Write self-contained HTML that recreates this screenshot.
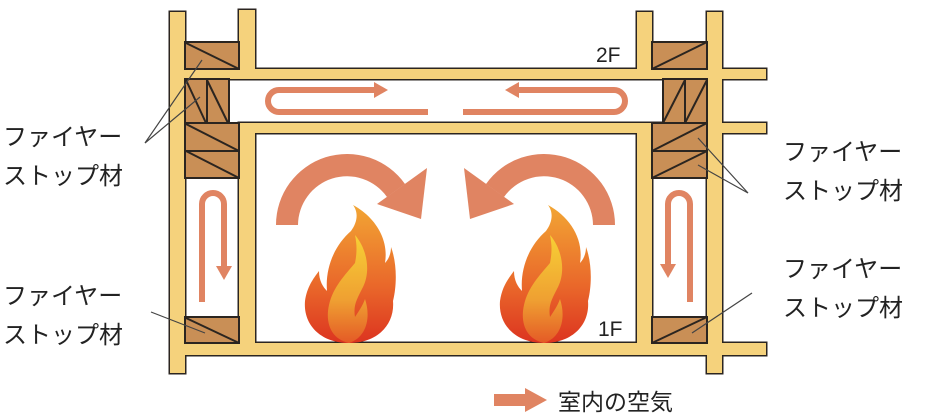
<!DOCTYPE html>
<html><head><meta charset="utf-8"><style>
html,body{margin:0;padding:0;background:#fff;}
svg{display:block;}
text{font-family:"Liberation Sans","Noto Sans CJK JP",sans-serif;fill:#222;}
</style></head><body>
<svg width="940" height="420" viewBox="0 0 940 420" xmlns="http://www.w3.org/2000/svg">
<defs>
<linearGradient id="fo" x1="0" y1="0" x2="0" y2="1"><stop offset="0" stop-color="#F2A634"/><stop offset="0.6" stop-color="#E9662A"/><stop offset="1" stop-color="#DC3420"/></linearGradient>
<linearGradient id="fi" x1="0" y1="0" x2="0" y2="1"><stop offset="0" stop-color="#F7D035"/><stop offset="0.6" stop-color="#EFA032"/><stop offset="1" stop-color="#E45A26"/></linearGradient>
<g id="flame">
<path fill="url(#fo)" d="M0,138 C-28,138 -46,120 -44,96 C-42,82 -36,74 -30,66 C-30,76 -26,82 -22,86 C-24,62 -14,40 2,26 C8,18 10,8 4,0 C26,12 40,34 36,58 C40,54 42,48 42,42 C48,58 48,80 44,96 C46,120 28,138 0,138 Z"/>
<path fill="url(#fi)" d="M0,138 C-18,134 -24,118 -20,100 C-16,82 -4,70 6,58 C8,48 8,40 6,30 C18,44 22,66 14,82 C8,94 4,100 6,112 C10,106 14,100 16,94 C22,112 18,132 0,138 Z"/>
</g>
<g id="curl">
<path fill="#E08462" d="M276,225 A71,71 0 0 1 405,184 L387,197 A49,49 0 0 0 298,225 Z"/>
<polygon fill="#E08462" points="377,204 427,168 421,219"/>
</g>
</defs>
<g fill="#2b2520">
<rect x="168.5" y="10.5" width="18" height="364"/>
<rect x="237.5" y="8.5" width="19" height="63"/>
<rect x="183.5" y="67.5" width="584" height="13"/>
<rect x="237.5" y="121.5" width="530" height="13"/>
<rect x="237.5" y="121.5" width="19" height="235"/>
<rect x="183.5" y="341.5" width="584" height="15"/>
<rect x="635.5" y="10.5" width="18" height="61"/>
<rect x="635.5" y="121.5" width="18" height="235"/>
<rect x="705.5" y="10.5" width="18" height="364"/>
</g>
<g fill="#F5D27C">
<rect x="170" y="12" width="15" height="361"/>
<rect x="239" y="10" width="16" height="60"/>
<rect x="185" y="69" width="581" height="10"/>
<rect x="239" y="123" width="527" height="10"/>
<rect x="239" y="123" width="16" height="232"/>
<rect x="185" y="343" width="581" height="12"/>
<rect x="637" y="12" width="15" height="58"/>
<rect x="637" y="123" width="15" height="232"/>
<rect x="707" y="12" width="15" height="361"/>
</g>
<g fill="#C98F56" stroke="#2b2520" stroke-width="2">
<rect x="185" y="42" width="54" height="27"/>
<rect x="185" y="79" width="22" height="44"/><rect x="207" y="79" width="22" height="44"/>
<rect x="185" y="123" width="54" height="28"/><rect x="185" y="151" width="54" height="27"/>
<rect x="185" y="317" width="54" height="26"/>
<rect x="652" y="42" width="55" height="27"/>
<rect x="663" y="79" width="22" height="44"/><rect x="685" y="79" width="22" height="44"/>
<rect x="652" y="123" width="55" height="28"/><rect x="652" y="151" width="55" height="27"/>
<rect x="652" y="317" width="55" height="26"/>
</g>
<g stroke="#2b2520" stroke-width="2">
<line x1="186" y1="43" x2="239" y2="69"/>
<line x1="186" y1="80" x2="206" y2="123"/><line x1="207" y1="80" x2="228" y2="123"/>
<line x1="186" y1="124" x2="239" y2="151"/><line x1="186" y1="151" x2="239" y2="178"/>
<line x1="186" y1="318" x2="239" y2="343"/>
<line x1="652" y1="69" x2="707" y2="42"/>
<line x1="663" y1="123" x2="685" y2="80"/><line x1="685" y1="123" x2="707" y2="80"/>
<line x1="652" y1="151" x2="707" y2="123"/><line x1="652" y1="178" x2="707" y2="151"/>
<line x1="652" y1="343" x2="707" y2="317"/>
</g>
<g stroke="#444" stroke-width="1.2" fill="none">
<polyline points="202,60 145,143 200,97"/>
<line x1="151" y1="312" x2="205" y2="333"/>
<polyline points="698,138 748,193 698,165"/>
<line x1="752" y1="293" x2="692" y2="333"/>
</g>
<g stroke="#E08462" stroke-width="6" fill="none">
<path d="M428,112 L279,112 A11,11 0 0 1 279,90 L378,90"/>
<path d="M463,112 L614,112 A11,11 0 0 0 614,90 L515,90"/>
<path d="M202,302 L202,204 A11,11 0 0 1 224,204 L224,270"/>
<path d="M690,302 L690,204 A11,11 0 0 0 668,204 L668,270"/>
</g>
<g fill="#E08462">
<polygon points="388,90 374,82 374,98"/>
<polygon points="505,90 519,82 519,98"/>
<polygon points="224,280 216,266 232,266"/>
<polygon points="668,278 660,264 676,264"/>
</g>
<use href="#curl"/>
<use href="#curl" transform="translate(891,0) scale(-1,1)"/>
<use href="#flame" transform="translate(349,205)"/>
<use href="#flame" transform="translate(544,205)"/>
<text x="596" y="62" font-size="21">2F</text>
<text x="598" y="336" font-size="21">1F</text>
<g font-size="24">
<text x="3" y="145">ファイヤー</text>
<text x="3" y="184">ストップ材</text>
<text x="3" y="304">ファイヤー</text>
<text x="3" y="343">ストップ材</text>
<text x="783" y="160">ファイヤー</text>
<text x="783" y="199">ストップ材</text>
<text x="783" y="277">ファイヤー</text>
<text x="783" y="316">ストップ材</text>
</g>
<polygon fill="#E08462" points="494,394 525,394 525,388 547,400 525,412 525,406 494,406"/>
<text x="558" y="410" font-size="23">室内の空気</text>
</svg>
</body></html>
